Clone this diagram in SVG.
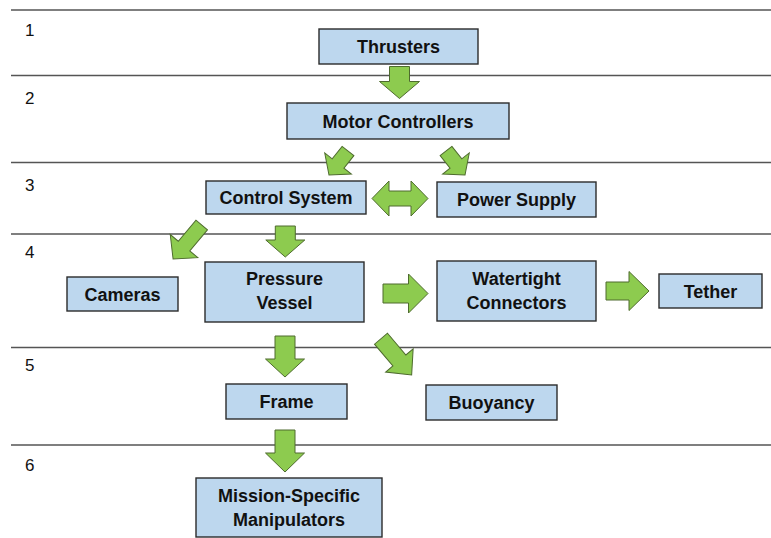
<svg xmlns="http://www.w3.org/2000/svg" width="771" height="538" viewBox="0 0 771 538">
  <style>
    .rule { stroke: #555; stroke-width: 1.4; fill: none; }
    .num { font-family: "Liberation Sans", Arial, sans-serif; font-size: 17px; fill: #111; }
    .box { fill: #BDD7EE; stroke: #2b2b2b; stroke-width: 1.4; }
    .lbl { font-family: "Liberation Sans", Arial, sans-serif; font-size: 18px; font-weight: bold; fill: #111; text-anchor: middle; }
    .arrow { fill: #8DCB4F; stroke: #4E6B2E; stroke-width: 1; stroke-linejoin: miter; }
  </style>
  <rect width="771" height="538" fill="#fff"/>

  <!-- level rules and numbers -->
  <g id="levels">
    <line class="rule" x1="11" y1="10" x2="771" y2="10"/>
    <line class="rule" x1="11" y1="75.5" x2="771" y2="75.5"/>
    <line class="rule" x1="11" y1="162.5" x2="771" y2="162.5"/>
    <line class="rule" x1="11" y1="234" x2="771" y2="234"/>
    <line class="rule" x1="11" y1="347.5" x2="771" y2="347.5"/>
    <line class="rule" x1="11" y1="445" x2="771" y2="445"/>
    <text class="num" x="25" y="36">1</text>
    <text class="num" x="25" y="104">2</text>
    <text class="num" x="25" y="191">3</text>
    <text class="num" x="25" y="258">4</text>
    <text class="num" x="25" y="371">5</text>
    <text class="num" x="25" y="471">6</text>
  </g>

  <!-- block arrows -->
  <g id="connectors">
    <polygon class="arrow" transform="translate(399.5,66.5) rotate(90)" points="0,-10 15,-10 15,-20 32,0 15,20 15,10 0,10"/>
    <polygon class="arrow" transform="translate(348,151) rotate(128.4)" points="0,-7.5 16,-7.5 16,-17 30.6,0 16,17 16,7.5 0,7.5"/>
    <polygon class="arrow" transform="translate(446,151) rotate(51.6)" points="0,-7.5 16,-7.5 16,-17 30.6,0 16,17 16,7.5 0,7.5"/>
    <polygon class="arrow" points="372,198.5 389,181 389,191 411,191 411,181 428,198.5 411,216 411,206 389,206 389,216"/>
    <polygon class="arrow" transform="translate(201.7,225) rotate(130)" points="0,-7.5 27.5,-7.5 27.5,-18 44.5,0 27.5,18 27.5,7.5 0,7.5"/>
    <polygon class="arrow" transform="translate(285.3,226) rotate(90)" points="0,-10 14,-10 14,-19.5 31,0 14,19.5 14,10 0,10"/>
    <polygon class="arrow" transform="translate(383,293.5)" points="0,-9.5 25.5,-9.5 25.5,-19.5 45,0 25.5,19.5 25.5,9.5 0,9.5"/>
    <polygon class="arrow" transform="translate(606,291)" points="0,-9 23,-9 23,-19.5 43,0 23,19.5 23,9 0,9"/>
    <polygon class="arrow" transform="translate(285,336) rotate(90)" points="0,-10 23,-10 23,-19.5 41,0 23,19.5 23,10 0,10"/>
    <polygon class="arrow" transform="translate(381,338.7) rotate(49.8)" points="0,-8.5 28.5,-8.5 28.5,-18 47.5,0 28.5,18 28.5,8.5 0,8.5"/>
    <polygon class="arrow" transform="translate(285,430) rotate(90)" points="0,-10 23,-10 23,-19.5 42,0 23,19.5 23,10 0,10"/>
  </g>

  <g id="thrusters">
    <rect class="box" x="319" y="29" width="159" height="35"/>
    <text class="lbl" x="398.5" y="53">Thrusters</text>
  </g>
  <g id="motor-controllers">
    <rect class="box" x="287" y="103" width="222" height="36"/>
    <text class="lbl" x="398" y="127.5">Motor Controllers</text>
  </g>
  <g id="control-system">
    <rect class="box" x="206" y="181" width="160" height="33"/>
    <text class="lbl" x="286" y="204">Control System</text>
  </g>
  <g id="power-supply">
    <rect class="box" x="437" y="182" width="159" height="35"/>
    <text class="lbl" x="516.5" y="206">Power Supply</text>
  </g>
  <g id="cameras">
    <rect class="box" x="67" y="277" width="111" height="34"/>
    <text class="lbl" x="122.5" y="300.5">Cameras</text>
  </g>
  <g id="pressure-vessel">
    <rect class="box" x="205" y="262" width="159" height="60"/>
    <text class="lbl" x="284.5" y="285">Pressure</text>
    <text class="lbl" x="284.5" y="309">Vessel</text>
  </g>
  <g id="watertight-connectors">
    <rect class="box" x="437" y="261" width="159" height="60"/>
    <text class="lbl" x="516.5" y="285">Watertight</text>
    <text class="lbl" x="516.5" y="309">Connectors</text>
  </g>
  <g id="tether">
    <rect class="box" x="659" y="274" width="103" height="34"/>
    <text class="lbl" x="710.5" y="297.5">Tether</text>
  </g>
  <g id="frame">
    <rect class="box" x="226" y="384" width="121" height="35"/>
    <text class="lbl" x="286.5" y="408">Frame</text>
  </g>
  <g id="buoyancy">
    <rect class="box" x="426" y="385" width="131" height="35"/>
    <text class="lbl" x="491.5" y="409">Buoyancy</text>
  </g>
  <g id="mission-specific-manipulators">
    <rect class="box" x="196" y="478" width="186" height="59"/>
    <text class="lbl" x="289" y="501.5">Mission-Specific</text>
    <text class="lbl" x="289" y="526">Manipulators</text>
  </g>
</svg>
